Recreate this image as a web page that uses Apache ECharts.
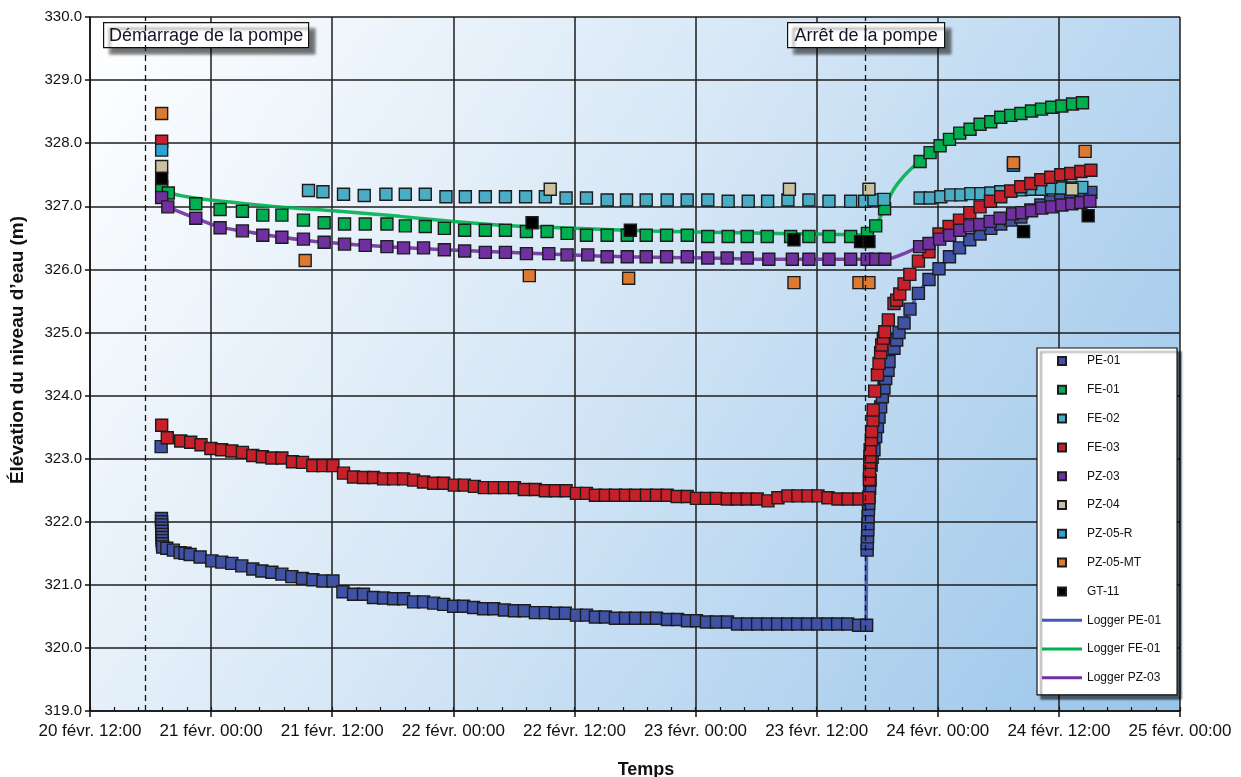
<!DOCTYPE html>
<html>
<head>
<meta charset="utf-8">
<script src="https://cdn.jsdelivr.net/npm/echarts@6/dist/echarts.min.js"></script>
<style>
  html, body { margin: 0; padding: 0; background: #ffffff; }
  #chart { width: 1241px; height: 777px; }
</style>
</head>
<body>
<div id="chart"></div>
<script>
// Time is expressed in hours after 20 févr. 12:00
const xTickLabels = ['20 févr. 12:00', '21 févr. 00:00', '21 févr. 12:00', '22 févr. 00:00',
  '22 févr. 12:00', '23 févr. 00:00', '23 févr. 12:00', '24 févr. 00:00', '24 févr. 12:00', '25 févr. 00:00'];

const pumpStartHour = 5.45;
const pumpStopHour = 76.8;

// Manual readings [hour, elevation m]
const pe01 = [
  [7.05, 323.19], [7.08, 322.05], [7.09, 322.0], [7.1, 321.95], [7.11, 321.9], [7.12, 321.85], [7.13, 321.8],
  [7.14, 321.75], [7.15, 321.7], [7.17, 321.65], [7.2, 321.6], [7.61, 321.58], [8.26, 321.55], [8.93, 321.51],
  [9.42, 321.50], [9.92, 321.48], [10.91, 321.44], [12.07, 321.38], [13.06, 321.36], [14.05, 321.34], [15.04, 321.30],
  [16.13, 321.25], [17.03, 321.22], [18.02, 321.20], [19.01, 321.17], [20.0, 321.13], [21.05, 321.10], [22.08, 321.08],
  [23.08, 321.06], [24.07, 321.06], [25.06, 320.89], [26.11, 320.85], [27.10, 320.85], [28.09, 320.80], [29.09, 320.79],
  [30.08, 320.78], [31.07, 320.78], [32.06, 320.73], [33.05, 320.73], [34.05, 320.71], [35.04, 320.69], [36.03, 320.66],
  [37.02, 320.66], [38.01, 320.64], [39.0, 320.62], [40.0, 320.62], [41.06, 320.60], [42.05, 320.59], [43.04, 320.59],
  [44.13, 320.56], [45.12, 320.56], [46.11, 320.55], [47.10, 320.55], [48.20, 320.52], [49.19, 320.52], [50.08, 320.49],
  [51.07, 320.49], [52.06, 320.47], [53.06, 320.47], [54.05, 320.47], [55.14, 320.47], [56.13, 320.47], [57.22, 320.45],
  [58.21, 320.45], [59.2, 320.43], [60.09, 320.43], [61.08, 320.41], [62.07, 320.41], [63.16, 320.41], [64.16, 320.38],
  [65.15, 320.38], [66.15, 320.38], [67.14, 320.38], [68.13, 320.38], [69.12, 320.38], [70.11, 320.38], [71.10, 320.38],
  [72.09, 320.38], [73.08, 320.38], [74.08, 320.38], [75.07, 320.38], [76.16, 320.36], [76.95, 320.36],
  [77.0, 321.55], [77.02, 321.66], [77.04, 321.76], [77.06, 321.87], [77.08, 321.97], [77.1, 322.08], [77.13, 322.19],
  [77.16, 322.29], [77.2, 322.40], [77.25, 322.53], [77.3, 322.66], [77.4, 322.9], [77.5, 323.02], [77.68, 323.14],
  [77.85, 323.35], [78.02, 323.51], [78.18, 323.66], [78.34, 323.82], [78.51, 323.98], [78.67, 324.12], [78.84, 324.27],
  [79.07, 324.40], [79.17, 324.54], [79.66, 324.75], [79.93, 324.88], [80.16, 325.0], [80.66, 325.15], [81.25, 325.37],
  [82.08, 325.62], [83.13, 325.84], [84.12, 326.01], [85.16, 326.20], [86.15, 326.34], [87.17, 326.47], [88.19, 326.56],
  [89.25, 326.65], [90.24, 326.72], [91.23, 326.78], [92.23, 326.83], [93.22, 326.94], [94.21, 327.02], [95.2, 327.07],
  [96.19, 327.13], [97.18, 327.16], [98.18, 327.19], [99.17, 327.22]
];

const fe01 = [
  [7.1, 327.31], [7.76, 327.21], [10.48, 327.04], [12.89, 326.95], [15.1, 326.92], [17.12, 326.86], [19.01, 326.86],
  [21.15, 326.78], [23.2, 326.74], [25.22, 326.72], [27.27, 326.72], [29.42, 326.72], [31.24, 326.69], [33.22, 326.68],
  [35.11, 326.65], [37.12, 326.62], [39.17, 326.62], [41.16, 326.62], [43.24, 326.60], [45.29, 326.60], [47.27, 326.57],
  [49.19, 326.54], [51.24, 326.54], [53.23, 326.54], [55.11, 326.54], [57.13, 326.54], [59.18, 326.54], [61.21, 326.52],
  [63.23, 326.52], [65.12, 326.52], [67.1, 326.52], [69.42, 326.52], [71.23, 326.52], [73.22, 326.52], [75.37, 326.52],
  [77.03, 326.57], [77.85, 326.69], [78.73, 326.96], [82.25, 327.71], [83.24, 327.85], [84.23, 327.96], [85.16, 328.06],
  [86.18, 328.16], [87.2, 328.22], [88.19, 328.30], [89.25, 328.34], [90.24, 328.41], [91.23, 328.44], [92.23, 328.47],
  [93.29, 328.51], [94.28, 328.54], [95.3, 328.57], [96.29, 328.59], [97.35, 328.62], [98.34, 328.64]
];

const fe02 = [
  [21.65, 327.25], [23.08, 327.23], [25.12, 327.19], [27.17, 327.17], [29.32, 327.19], [31.24, 327.19], [33.22, 327.19],
  [35.27, 327.15], [37.19, 327.15], [39.17, 327.15], [41.16, 327.15], [43.16, 327.15], [45.12, 327.15], [47.17, 327.13],
  [49.19, 327.13], [51.24, 327.10], [53.16, 327.10], [55.11, 327.10], [57.19, 327.10], [59.17, 327.10], [61.21, 327.10],
  [63.23, 327.08], [65.22, 327.08], [67.14, 327.08], [69.15, 327.10], [71.23, 327.10], [73.22, 327.08], [75.37, 327.08],
  [76.75, 327.08], [77.68, 327.10], [78.67, 327.11], [82.25, 327.13], [83.24, 327.13], [84.3, 327.15], [85.29, 327.18],
  [86.29, 327.18], [87.28, 327.20], [88.27, 327.20], [89.26, 327.21], [90.24, 327.23], [91.23, 327.24], [92.23, 327.26],
  [93.29, 327.27], [94.28, 327.27], [95.27, 327.29], [96.26, 327.29], [97.27, 327.29], [98.27, 327.30]
];

const fe03 = [
  [7.1, 328.03], [7.1, 323.53], [7.66, 323.33], [8.99, 323.28], [9.98, 323.26], [11.0, 323.22], [11.98, 323.16],
  [13.05, 323.14], [14.05, 323.12], [15.1, 323.10], [16.13, 323.05], [17.08, 323.03], [18.02, 323.01], [19.01, 323.01],
  [20.06, 322.95], [21.05, 322.94], [22.08, 322.89], [23.08, 322.89], [24.07, 322.89], [25.12, 322.77], [26.11, 322.71],
  [27.10, 322.70], [28.09, 322.70], [29.09, 322.68], [30.08, 322.68], [31.07, 322.68], [32.06, 322.66], [33.05, 322.63],
  [34.05, 322.61], [35.04, 322.61], [36.1, 322.58], [37.09, 322.58], [38.08, 322.56], [39.07, 322.54], [40.06, 322.54],
  [41.06, 322.54], [42.05, 322.54], [43.04, 322.51], [44.13, 322.51], [45.12, 322.49], [46.11, 322.49], [47.17, 322.49],
  [48.2, 322.45], [49.19, 322.45], [50.08, 322.42], [51.07, 322.42], [52.06, 322.42], [53.06, 322.42], [54.05, 322.42],
  [55.14, 322.42], [56.13, 322.42], [57.19, 322.42], [58.18, 322.40], [59.17, 322.40], [60.09, 322.37], [61.08, 322.37],
  [62.07, 322.37], [63.14, 322.36], [64.13, 322.36], [65.12, 322.36], [66.11, 322.36], [67.17, 322.33], [68.16, 322.38],
  [69.15, 322.41], [70.14, 322.41], [71.13, 322.41], [72.13, 322.41], [73.12, 322.38], [74.11, 322.36], [75.10, 322.36],
  [76.19, 322.36], [77.18, 322.38], [77.22, 322.67], [77.24, 322.80], [77.26, 322.94], [77.28, 323.03], [77.3, 323.14],
  [77.42, 323.30], [77.45, 323.43], [77.58, 323.61], [77.6, 323.77], [77.75, 324.07], [78.02, 324.33], [78.18, 324.51],
  [78.34, 324.68], [78.44, 324.80], [78.61, 324.91], [78.74, 325.01], [79.1, 325.20], [79.66, 325.46], [79.93, 325.51],
  [80.23, 325.61], [80.66, 325.77], [81.23, 325.92], [82.08, 326.13], [83.13, 326.28], [84.12, 326.56], [85.12, 326.68],
  [86.15, 326.78], [87.17, 326.90], [88.19, 326.99], [89.22, 327.08], [90.24, 327.15], [91.23, 327.24], [92.23, 327.31],
  [93.22, 327.36], [94.21, 327.42], [95.2, 327.46], [96.19, 327.50], [97.18, 327.52], [98.18, 327.55], [99.17, 327.57]
];

const pz03 = [
  [7.1, 327.14], [7.71, 326.99], [10.48, 326.81], [12.89, 326.66], [15.1, 326.61], [17.12, 326.54], [19.01, 326.51],
  [21.15, 326.48], [23.2, 326.43], [25.22, 326.40], [27.27, 326.38], [29.42, 326.36], [31.07, 326.34], [33.05, 326.34],
  [35.11, 326.31], [37.12, 326.29], [39.17, 326.27], [41.16, 326.27], [43.24, 326.25], [45.46, 326.25], [47.27, 326.23],
  [49.32, 326.23], [51.24, 326.20], [53.23, 326.20], [55.11, 326.20], [57.13, 326.20], [59.18, 326.20], [61.21, 326.18],
  [63.13, 326.18], [65.12, 326.18], [67.26, 326.16], [69.59, 326.16], [71.23, 326.16], [73.22, 326.16], [75.37, 326.16],
  [77.0, 326.16], [77.85, 326.16], [78.75, 326.16], [82.2, 326.36], [83.13, 326.41], [84.19, 326.48], [85.18, 326.54],
  [86.18, 326.62], [87.17, 326.69], [88.16, 326.71], [89.19, 326.76], [90.18, 326.81], [91.41, 326.88], [92.33, 326.90],
  [93.29, 326.93], [94.31, 326.97], [95.3, 326.99], [96.29, 327.02], [97.28, 327.04], [98.18, 327.06], [99.07, 327.08]
];

const pz04 = [[7.1, 327.63], [45.6, 327.27], [69.3, 327.27], [77.18, 327.27], [97.3, 327.27]];
const pz05r = [[7.1, 327.89], [91.5, 327.65]];
const pz05mt = [[7.1, 328.47], [21.32, 326.14], [43.53, 325.90], [53.37, 325.86], [69.75, 325.79], [76.19, 325.79],
  [77.18, 325.79], [91.5, 327.69], [98.6, 327.87]];
const gt11 = [[7.1, 327.44], [43.8, 326.74], [53.54, 326.62], [69.75, 326.47], [76.35, 326.44], [77.18, 326.44],
  [92.5, 326.60], [98.9, 326.85]];

// Continuous logger records
const loggerPe01 = [
  [7.05, 322.1], [7.2, 321.6], [9.9, 321.48], [15.0, 321.30], [20.0, 321.13], [24.1, 321.06], [25.1, 320.89],
  [30.1, 320.78], [36.0, 320.66], [41.1, 320.60], [48.2, 320.52], [52.1, 320.47], [57.2, 320.45], [61.1, 320.41],
  [64.2, 320.38], [75.1, 320.38], [76.85, 320.36], [76.95, 321.55], [77.1, 322.08], [77.3, 322.66], [77.68, 323.14],
  [78.18, 323.66], [78.67, 324.12], [79.17, 324.54], [80.16, 325.0], [81.25, 325.37], [82.08, 325.62], [83.13, 325.84],
  [84.12, 326.01], [86.15, 326.34], [88.19, 326.56], [90.24, 326.72], [92.23, 326.83], [94.21, 327.02], [96.19, 327.13],
  [99.17, 327.22]
];
const loggerFe01 = [
  [7.0, 327.33], [8.2, 327.2], [10.9, 327.12], [14.9, 327.05], [18.8, 326.99], [24.1, 326.93], [30.7, 326.84],
  [36.0, 326.76], [41.7, 326.69], [48.0, 326.65], [55.5, 326.61], [64.5, 326.58], [72.0, 326.56], [76.8, 326.55],
  [77.1, 326.57], [77.85, 326.69], [78.7, 326.96], [79.6, 327.26], [80.6, 327.47], [81.6, 327.63], [82.25, 327.71],
  [84.23, 327.96], [86.18, 328.16], [88.19, 328.30], [90.24, 328.41], [92.23, 328.47], [94.28, 328.54], [96.29, 328.59],
  [98.34, 328.64]
];
const loggerPz03 = [
  [7.0, 327.16], [7.7, 327.0], [10.5, 326.81], [12.9, 326.67], [15.1, 326.61], [19.0, 326.51], [23.2, 326.43],
  [29.4, 326.36], [35.1, 326.31], [41.2, 326.27], [47.3, 326.23], [53.2, 326.20], [61.2, 326.18], [67.3, 326.16],
  [78.75, 326.16], [80.66, 326.25], [82.2, 326.36], [85.18, 326.54], [88.16, 326.71], [91.41, 326.88], [94.31, 326.97],
  [97.28, 327.04], [99.07, 327.08]
];

const FONT = '"Liberation Sans", Arial, sans-serif';
const SQUARE = 'path://M0 0H10V10H0Z';
const BAR = 'path://M0 0H40V3H0Z';

const colors = {
  pe01: '#3f52a6', fe01: '#00b050', fe02: '#4bacc6', fe03: '#c8202a', pz03: '#7030a0',
  pz04: '#c9c1a0', pz05r: '#2aa3d6', pz05mt: '#dd7a32', gt11: '#000000', logPe01: '#4459b3'
};

function pointSeries(name, data, color) {
  return {
    name, type: 'scatter', data, z: 3,
    symbol: 'rect', symbolSize: 12,
    itemStyle: { color, borderColor: '#1c1c1c', borderWidth: 1.4, opacity: 1 },
    emphasis: { disabled: true }
  };
}
function loggerSeries(name, data, color) {
  return {
    name, type: 'line', data, z: 2, symbol: 'none', showSymbol: false, smooth: 0.3,
    lineStyle: { color, width: 3.5, opacity: 0.9 },
    itemStyle: { color },
    emphasis: { disabled: true }
  };
}

const chart = echarts.init(document.getElementById('chart'), null, { renderer: 'canvas' });

const option = {
  animation: false,
  backgroundColor: '#ffffff',
  textStyle: { fontFamily: FONT },
  grid: {
    left: 90, right: 61, top: 17, bottom: 66,
    outerBoundsMode: 'none', containLabel: false,
    show: true, borderWidth: 0,
    backgroundColor: {
      type: 'linear', x: 0, y: 0, x2: 1, y2: 1,
      colorStops: [
        { offset: 0, color: '#ffffff' },
        { offset: 0.45, color: '#d6e7f6' },
        { offset: 1, color: '#98c4ea' }
      ]
    }
  },
  xAxis: [{
    type: 'value', min: 0, max: 108, interval: 12,
    name: 'Temps', nameLocation: 'middle', nameGap: 50,
    nameTextStyle: { fontFamily: FONT, fontSize: 18, fontWeight: 'bold', color: '#111', padding: [0, 0, 0, 22] },
    axisLine: { show: true, onZero: false, lineStyle: { color: '#111', width: 1.5 } },
    axisTick: { show: true, length: 6, lineStyle: { color: '#111', width: 1.5 } },
    axisLabel: {
      fontFamily: FONT, fontSize: 17, color: '#111', margin: 12,
      formatter: v => xTickLabels[Math.round(v / 12)] || ''
    },
    splitLine: { show: true, lineStyle: { color: '#1e1e1e', width: 1.5 } }
  }, {
    // small inner ticks every 2.4 h
    type: 'value', min: 0, max: 108, interval: 2.4, position: 'bottom',
    axisLine: { show: false },
    axisTick: { show: true, inside: true, length: 4, lineStyle: { color: '#111', width: 1.2 } },
    axisLabel: { show: false },
    splitLine: { show: false }
  }],
  yAxis: {
    type: 'value', min: 319, max: 330, interval: 1,
    name: 'Élévation du niveau d\u2019eau (m)', nameLocation: 'middle', nameGap: 63, nameRotate: 90,
    nameTextStyle: { fontFamily: FONT, fontSize: 19, fontWeight: 'bold', color: '#111', padding: [0, 0, 0, 28] },
    axisLine: { show: true, lineStyle: { color: '#111', width: 1.5 } },
    axisTick: { show: true, length: 5, lineStyle: { color: '#111', width: 1.5 } },
    axisLabel: { fontFamily: FONT, fontSize: 15, color: '#111', margin: 8, formatter: v => v.toFixed(1) },
    splitLine: { show: true, lineStyle: { color: '#1e1e1e', width: 1.5 } }
  },
  legend: {
    orient: 'vertical', left: 1037, top: 348,
    padding: [7, 16, 11, 5], itemGap: 16.8,
    itemWidth: 40, itemHeight: 8,
    backgroundColor: '#ffffff', borderColor: '#111', borderWidth: 1.2,
    shadowColor: 'rgba(0,0,0,0.55)', shadowBlur: 2, shadowOffsetX: 4, shadowOffsetY: 4,
    textStyle: { fontFamily: FONT, fontSize: 12, color: '#111' },
    selectedMode: false,
    data: [
      { name: 'PE-01', icon: SQUARE }, { name: 'FE-01', icon: SQUARE }, { name: 'FE-02', icon: SQUARE },
      { name: 'FE-03', icon: SQUARE }, { name: 'PZ-03', icon: SQUARE }, { name: 'PZ-04', icon: SQUARE },
      { name: 'PZ-05-R', icon: SQUARE }, { name: 'PZ-05-MT', icon: SQUARE }, { name: 'GT-11', icon: SQUARE },
      { name: 'Logger PE-01', icon: BAR, itemStyle: { color: colors.logPe01, borderWidth: 0 } },
      { name: 'Logger FE-01', icon: BAR, itemStyle: { color: colors.fe01, borderWidth: 0 } },
      { name: 'Logger PZ-03', icon: BAR, itemStyle: { color: colors.pz03, borderWidth: 0 } }
    ]
  },
  series: [
    Object.assign(loggerSeries('Logger PE-01', loggerPe01, colors.logPe01), {
      markLine: {
        silent: true, symbol: 'none', label: { show: false },
        lineStyle: { color: '#111', type: [6, 4], width: 1.3 },
        data: [{ xAxis: pumpStartHour }, { xAxis: pumpStopHour }]
      }
    }),
    loggerSeries('Logger FE-01', loggerFe01, colors.fe01),
    loggerSeries('Logger PZ-03', loggerPz03, colors.pz03),
    pointSeries('PE-01', pe01, colors.pe01),
    pointSeries('FE-01', fe01, colors.fe01),
    pointSeries('FE-02', fe02, colors.fe02),
    pointSeries('FE-03', fe03, colors.fe03),
    pointSeries('PZ-03', pz03, colors.pz03),
    pointSeries('PZ-04', pz04, colors.pz04),
    pointSeries('PZ-05-R', pz05r, colors.pz05r),
    pointSeries('GT-11', gt11, colors.gt11),
    pointSeries('PZ-05-MT', pz05mt, colors.pz05mt)
  ]
};
chart.setOption(option);

// Annotation boxes for pump start / stop
function noteBox(text, hour, offsetLeft, width) {
  const lx = chart.convertToPixel({ xAxisIndex: 0 }, hour);
  const left = Math.round(lx + offsetLeft);
  return {
    type: 'group', left: left, top: 22, z: 20,
    children: [
      {
        type: 'rect', shape: { x: 0, y: 0, width: width, height: 25 },
        style: { fill: '#ffffff', stroke: '#111', lineWidth: 1.2,
          shadowColor: 'rgba(0,0,0,0.55)', shadowBlur: 3, shadowOffsetX: 6, shadowOffsetY: 6 }
      },
      {
        type: 'text', x: width / 2, y: 13,
        style: { text: text, font: '18px ' + FONT, fill: '#141428', align: 'center', verticalAlign: 'middle' }
      }
    ]
  };
}
chart.setOption({
  graphic: [
    noteBox('Démarrage de la pompe', pumpStartHour, -42, 205),
    noteBox('Arrêt de la pompe', pumpStopHour, -78, 157)
  ]
});
</script>
</body>
</html>
